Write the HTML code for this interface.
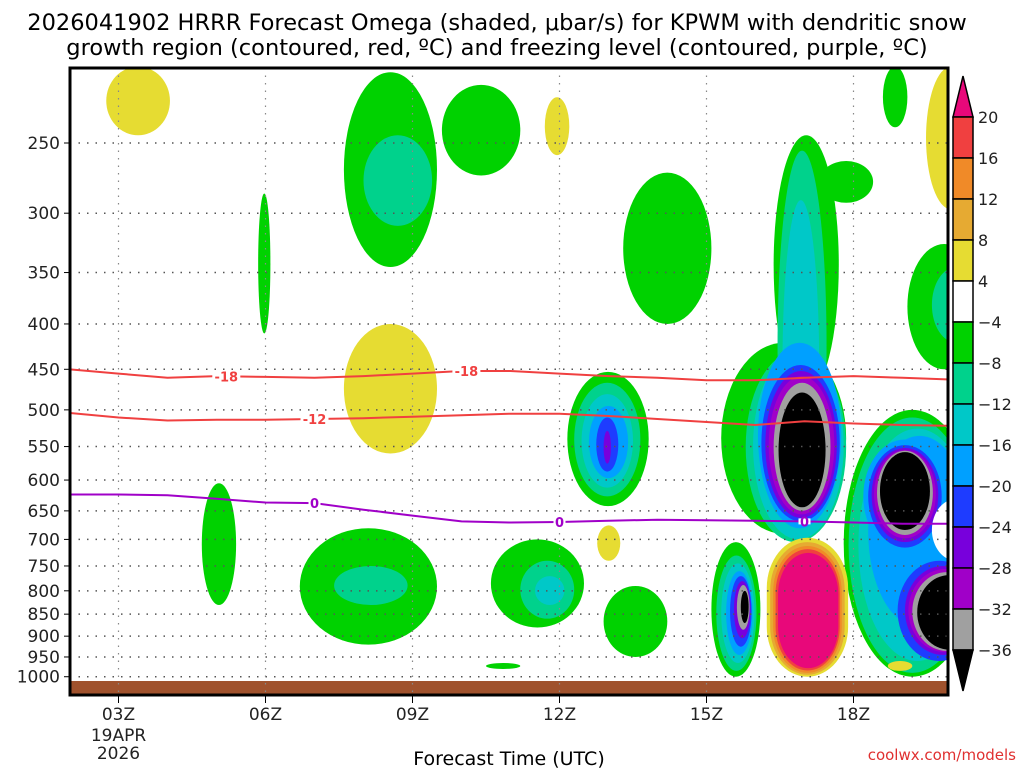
<!DOCTYPE html>
<html><head><meta charset="utf-8"><style>
html,body{margin:0;padding:0;background:#fff;width:1024px;height:768px;overflow:hidden}
svg text{font-family:"DejaVu Sans","Liberation Sans",sans-serif}
</style></head><body>
<svg id="chart" width="1024" height="768" xmlns="http://www.w3.org/2000/svg">
<text x="497" y="30" font-size="22.5" text-anchor="middle" fill="#000">2026041902 HRRR Forecast Omega (shaded, μbar/s) for KPWM with dendritic snow</text>
<text x="497" y="55" font-size="22.5" text-anchor="middle" fill="#000">growth region (contoured, red, ºC) and freezing level (contoured, purple, ºC)</text>
<g id="plot"></g>
<g id="axes"></g>
<g id="cbar"></g>
<text x="509" y="765" font-size="19" text-anchor="middle">Forecast Time (UTC)</text>
<text x="1016" y="760" font-size="15" text-anchor="end" fill="#e03030">coolwx.com/models</text>
</svg>
<script>
// ---- data ----
const xTickHours=[3,6,9,12,15,18];
const xTickLabels=["03Z","06Z","09Z","12Z","15Z","18Z"];
const yTicks=[250,300,350,400,450,500,550,600,650,700,750,800,850,900,950,1000];
const cbLevels=["20","16","12","8","4","-4","-8","-12","-16","-20","-24","-28","-32","-36"];
const cbColors=["#f04040","#f08a28","#e6aa32","#e6dc32","#ffffff","#00d200","#00d28c","#00c8c8","#00a0ff","#1e3cff","#7800dc","#a000c8","#a0a0a0"];
const lineHours=[2,3,4,5,6,7,8,9,10,11,12,13,14,15,16,17,18,19,19.9];
const iso18=[450,455,460,458,459,460,458,455,452,452,455,458,460,463,463,460,458,460,462];
const iso12=[504,510,514,513,513,512,511,509,507,505,505,508,512,516,520,515,518,520,521];
const frz0=[623,623,624,630,636,637,648,658,668,670,669,667,665,666,667,668,670,672,672];
// blobs: [hour0,hour1,pTop,pBottom,color,rounded-rect?]
const cG="#00d200",cT="#00d28c",cC="#00c8c8",cLB="#00a0ff",cB="#1e3cff",cP="#7800dc",cV="#a000c8",cGR="#a0a0a0",cK="#000",cY="#e6dc32",cGO="#e6aa32",cO="#f08a28",cR="#f04040",cPK="#e8087a",cW="#fff";
const blobs=[
[2.75,4.05,205,245,cY],[11.7,12.2,222,258,cY],[19.48,20.5,205,297,cY],[19.9,20.5,225,275,cGO],
[7.6,9.5,208,345,cG],[9.6,11.2,215,272,cG],[8.0,9.4,245,310,cT],
[5.85,6.1,285,410,cG],[13.3,15.1,270,400,cG],[18.6,19.1,205,240,cG],
[7.6,9.5,400,560,cY],[4.7,5.4,605,830,cG],[6.7,9.5,680,920,cG],[7.4,8.9,750,830,cT],
[12.16,13.82,453,642,cG],[12.3,13.65,466,626,cT],[12.45,13.5,480,612,cC],[12.6,13.4,495,597,cLB],[12.75,13.2,510,587,cB],[12.9,13.05,528,575,cP],
[12.77,13.24,675,740,cY],[10.6,12.5,700,880,cG],[11.2,12.3,740,860,cT],[11.5,12.1,770,830,cC],
[12.9,14.2,790,950,cG],[10.5,11.2,965,980,cG],
[19.1,20.6,325,450,cG],[19.6,20.6,345,420,cT],
[17.8,20.6,500,1000,cG],[17.9,20.5,510,990,cT],[18.1,20.5,525,960,cC],[18.3,20.4,535,880,cLB],
[18.2,19.9,540,725,cLB],[18.3,19.8,548,715,cB],[18.37,19.73,552,705,cP],[18.42,19.68,555,698,cV],[18.48,19.62,556,692,cGR],[18.54,19.56,558,683,cK],
[19.6,20.6,630,740,cW],[19.9,20.6,640,730,cY],[20.1,20.6,650,720,cO],
[18.9,20.6,740,960,cB],[19.05,20.6,750,945,cP],[19.12,20.6,756,938,cV],[19.2,20.6,762,935,cGR],[19.3,20.6,768,932,cK],
[16.37,17.7,245,480,cG],[17.3,18.4,262,292,cG],[15.3,17.85,420,690,cG],
[16.45,17.45,255,700,cT],[15.8,17.85,430,705,cT],
[16.55,17.3,290,690,cC],[15.95,17.8,430,700,cC],
[16.05,17.75,420,680,cLB],[16.12,17.72,445,668,cB],[16.2,17.66,452,662,cP],[16.27,17.61,458,656,cV],[16.37,17.53,466,650,cGR],[16.47,17.43,478,644,cK],
[15.1,16.1,705,1000,cG],[15.2,16.02,730,985,cT],[15.3,15.98,745,965,cC],[15.4,15.94,760,945,cLB],[15.48,15.92,770,925,cB],[15.56,15.9,780,905,cP],[15.62,15.88,788,885,cGR],[15.7,15.86,800,870,cK],
[16.23,17.89,697,1000,cY,1],[16.3,17.82,705,995,cGO,1],[16.36,17.76,712,990,cO,1],[16.41,17.72,718,984,cR,1],[16.46,17.69,725,978,cPK,1],
[18.7,19.2,960,985,cY]
];
// ---- axes ----
const X0=70,X1=948,Y0=68,Y1=695;
const xs=h=>118.5+(h-3)*49;
const ys=p=>143+385*Math.log(p/250);
const NS="http://www.w3.org/2000/svg";
function mk(tag,attrs,parent){const e=document.createElementNS(NS,tag);for(const k in attrs)e.setAttribute(k,attrs[k]);parent.appendChild(e);return e;}
const plotG=document.getElementById('plot'),axesG=document.getElementById('axes'),cbarG=document.getElementById('cbar');
const clipEl=mk('clipPath',{id:'pc'},plotG);mk('rect',{x:X0,y:Y0,width:X1-X0,height:Y1-Y0},clipEl);
const gg=mk('g',{'clip-path':'url(#pc)'},plotG);
blobs.forEach(b=>{
 const x0=xs(b[0]),x1=xs(b[1]),y0=ys(b[2]),y1=ys(b[3]);
 let e;
 if(b[5]){e=mk('rect',{x:x0,y:y0,width:x1-x0,height:y1-y0,rx:(x1-x0)*0.5,ry:(y1-y0)*0.36,fill:b[4]},gg);}
 else{e=mk('ellipse',{cx:(x0+x1)/2,cy:(y0+y1)/2,rx:(x1-x0)/2,ry:(y1-y0)/2,fill:b[4]},gg);}
 
 
});
const grd=mk('rect',{x:X0,y:681,width:X1-X0,height:14,fill:'#a0522d'},gg);


yTicks.forEach(p=>{const l=mk('line',{x1:X0,x2:X1,y1:ys(p),y2:ys(p),stroke:'#555','stroke-dasharray':'1.5 7','stroke-width':1.5},gg);
 
 });
xTickHours.forEach(h=>{const l=mk('line',{x1:xs(h),x2:xs(h),y1:Y0,y2:Y1,stroke:'#888','stroke-dasharray':'1.5 6','stroke-width':1.2},gg);
 
 });
function drawLine(vals,color,name,labels,txt){
 const d=lineHours.map((h,i)=>(i?'L':'M')+xs(h).toFixed(1)+','+ys(vals[i]).toFixed(1)).join('');
 const p=mk('path',{d:d,fill:'none',stroke:color,'stroke-width':2},gg);
 
 
 labels.forEach(h=>{let i=0;while(i<lineHours.length-2&&lineHours[i+1]<h)i++;
  const t=(h-lineHours[i])/(lineHours[i+1]-lineHours[i]);const v=vals[i]+t*(vals[i+1]-vals[i]);
  const w=txt.length*8+4;
  mk('rect',{x:xs(h)-w/2,y:ys(v)-3,width:w,height:6,fill:'#fff'},gg);
  const tx=mk('text',{x:xs(h),y:ys(v)+5,'font-size':13,'font-weight':'bold','text-anchor':'middle',fill:color},gg);
  tx.textContent=txt;
  
  });
}
drawLine(iso18,'#f04040','isotherm-minus18',[5.2,10.1],'-18');
drawLine(iso12,'#f04040','isotherm-minus12',[7],'-12');
drawLine(frz0,'#a000c8','freezing-level-0c',[7,12,17],'0');
const frm=mk('rect',{x:X0,y:Y0,width:X1-X0,height:Y1-Y0,fill:'none',stroke:'#000','stroke-width':3},axesG);


yTicks.forEach(p=>{const t=mk('text',{x:60,y:ys(p)+6,'font-size':17,'text-anchor':'end',fill:'#222'},axesG);t.textContent=String(p);
 
 
 mk('line',{x1:X0-6,x2:X0,y1:ys(p),y2:ys(p),stroke:'#000','stroke-width':1},axesG);});
xTickHours.forEach((h,i)=>{const t=mk('text',{x:xs(h),y:720,'font-size':17,'text-anchor':'middle',fill:'#222'},axesG);t.textContent=xTickLabels[i];
 
 
 mk('line',{x1:xs(h),x2:xs(h),y1:Y1,y2:Y1+8,stroke:'#000','stroke-width':1},axesG);});
[["19APR",741],["2026",759]].forEach(a=>{const t=mk('text',{x:xs(3),y:a[1],'font-size':17,'text-anchor':'middle',fill:'#222'},axesG);t.textContent=a[0];
 
 });
const CX=953,CW=20,CT=117,CS=41;
const cbTop=mk('polygon',{points:`${CX},${CT} ${CX+CW},${CT} ${CX+CW/2},${CT-41}`,fill:cPK,stroke:'#000','stroke-width':1.5},cbarG);


cbColors.forEach((c,i)=>{const r=mk('rect',{x:CX,y:CT+i*CS,width:CW,height:CS,fill:c,stroke:'#000','stroke-width':1.5},cbarG);
 
 });
const yb=CT+cbColors.length*CS;
const cbBot=mk('polygon',{points:`${CX},${yb} ${CX+CW},${yb} ${CX+CW/2},${yb+41}`,fill:'#000',stroke:'#000','stroke-width':1.5},cbarG);


cbLevels.forEach((s,i)=>{const t=mk('text',{x:978,y:CT+i*CS+6,'font-size':16,fill:'#222'},cbarG);t.textContent=s.replace('-','−');
 
 });
</script>
</body></html>
